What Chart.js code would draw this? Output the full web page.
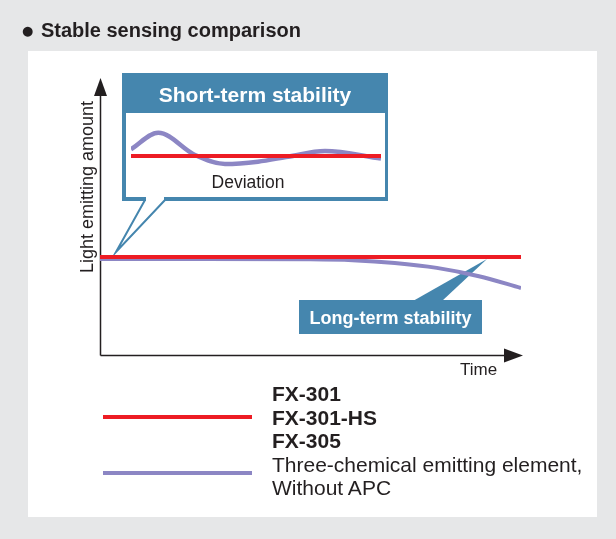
<!DOCTYPE html>
<html>
<head>
<meta charset="utf-8">
<script src="https://cdn.jsdelivr.net/npm/chart.js@4.4.0/dist/chart.umd.min.js"></script>
<style>
  html, body { margin: 0; padding: 0; }
  body { width: 616px; height: 539px; background: #e6e7e8; position: relative; overflow: hidden;
         font-family: "Liberation Sans", Arial, sans-serif; color: #231f20; }
  .abs { position: absolute; white-space: nowrap; }
  #panel { left: 28px; top: 51px; width: 569px; height: 466px; background: #fff; }
  #main-chart { position: absolute; left: 0; top: 0; }
  #inset-chart { position: absolute; left: 126px; top: 113px; }
  #title { left: 22px; top: 20px; font-size: 20px; line-height: 20px; font-weight: bold; }
  #title .dot { font-family: "DejaVu Sans", sans-serif; font-size: 13px; vertical-align: 2px; margin-right: 2px; }
  #short-title { left: 122px; top: 84px; width: 266px; text-align: center; color: #fff;
                 font-size: 21px; line-height: 21px; font-weight: bold; }
  #deviation { left: 148px; top: 174px; width: 200px; text-align: center; font-size: 17.5px; line-height: 17.5px; }
  #long-title { left: 299px; top: 309px; width: 183px; text-align: center; color: #fff;
                font-size: 18px; line-height: 18px; font-weight: bold; }
  #time-label { left: 460px; top: 361px; font-size: 17px; line-height: 17px; }
  #y-label { left: -13px; top: 178px; width: 200px; text-align: center; font-size: 18px; line-height: 18px;
             transform: rotate(-90deg); }
  #legend { left: 272px; top: 382px; font-size: 21px; line-height: 23.6px; }
  #legend b { font-weight: bold; }
  .swatch { position: absolute; left: 103px; width: 149px; height: 4px; }
</style>
</head>
<body>
<div id="panel" class="abs"></div>
<canvas id="main-chart" width="616" height="539"></canvas>
<canvas id="inset-chart" width="260" height="84"></canvas>

<div id="title" class="abs"><span class="dot">●</span> Stable sensing comparison</div>
<div id="short-title" class="abs">Short-term stability</div>
<div id="deviation" class="abs">Deviation</div>
<div id="long-title" class="abs">Long-term stability</div>
<div id="time-label" class="abs">Time</div>
<div id="y-label" class="abs">Light emitting amount</div>
<div id="fx-swatch" class="swatch"></div>
<div id="tc-swatch" class="swatch"></div>
<div id="legend" class="abs"></div>

<script>
// Series names (legend)
const fxNames = ["FX-301", "FX-301-HS", "FX-305"];
const threeChemNames = ["Three-chemical emitting element,", "Without APC"];

// Long-term: time (0-100) vs light emitting amount
const fxTime = [0, 100];
const fxLevel = [100, 100];
const threeChemTime = [0, 25, 50, 60, 70, 80, 90, 100];
const threeChemLevel = [98, 98, 97.7, 96.8, 94, 89, 80.5, 68.5];

// Short-term: deviation around the set level
const fxShortTime = [0, 100];
const fxShortDev = [0, 0];
const threeChemShortTime = [0, 10.9, 25.6, 37.6, 50.8, 62.8, 77.6, 100];
const threeChemShortDev = [6.7, 23.3, 1, -8, -5.7, -0.7, 5, -2.5];

const RED = "#ed1c24";
const PURPLE = "#8c86c4";
const BLUE = "#4586ae";
const INK = "#231f20";

function toPoints(xs, ys) {
    return xs.map((x, i) => ({ x: x, y: ys[i] }));
}

// legend text + swatches
document.getElementById("legend").innerHTML =
    fxNames.map(n => "<b>" + n + "</b>").join("<br>") + "<br>" + threeChemNames.join("<br>");
const fxSw = document.getElementById("fx-swatch");
fxSw.style.top = "415px"; fxSw.style.background = RED;
const tcSw = document.getElementById("tc-swatch");
tcSw.style.top = "471px"; tcSw.style.background = PURPLE;

// axes with arrows + callout shapes, drawn under the lines
const decorPlugin = {
    id: "decor",
    beforeDatasetsDraw(chart) {
        const ctx = chart.ctx;
        const a = chart.chartArea;
        ctx.save();

        // short-term callout box
        ctx.fillStyle = BLUE;
        ctx.fillRect(122, 73, 266, 128);
        ctx.fillStyle = "#fff";
        ctx.fillRect(126, 113, 259, 84);
        ctx.fillRect(146, 196, 18, 6);
        ctx.strokeStyle = BLUE;
        ctx.lineWidth = 2;
        ctx.beginPath();
        ctx.moveTo(145, 200);
        ctx.lineTo(116, 252);
        ctx.lineTo(165, 200);
        ctx.stroke();

        // long-term label box
        ctx.fillStyle = BLUE;
        ctx.fillRect(299, 300, 183, 34);
        ctx.beginPath();
        ctx.moveTo(413, 301);
        ctx.lineTo(487, 259);
        ctx.lineTo(442, 301);
        ctx.closePath();
        ctx.fill();

        // axes
        const x0 = Math.round(a.left) + 0.5;
        const y0 = Math.round(a.bottom) + 0.5;
        ctx.strokeStyle = INK;
        ctx.fillStyle = INK;
        ctx.lineWidth = 1.5;
        ctx.beginPath();
        ctx.moveTo(x0, y0);
        ctx.lineTo(x0, a.top + 14);
        ctx.moveTo(x0, y0);
        ctx.lineTo(a.right - 14, y0);
        ctx.stroke();
        ctx.beginPath();
        ctx.moveTo(x0, a.top);
        ctx.lineTo(x0 - 6.5, a.top + 18);
        ctx.lineTo(x0 + 6.5, a.top + 18);
        ctx.closePath();
        ctx.fill();
        ctx.beginPath();
        ctx.moveTo(a.right + 2, y0);
        ctx.lineTo(a.right - 17, y0 - 7);
        ctx.lineTo(a.right - 17, y0 + 7);
        ctx.closePath();
        ctx.fill();

        ctx.restore();
    }
};

const lineDefaults = {
    pointRadius: 0,
    fill: false,
    cubicInterpolationMode: "monotone"
};

new Chart(document.getElementById("main-chart"), {
    type: "line",
    data: {
        datasets: [
            Object.assign({ label: fxNames.join(" / "), data: toPoints(fxTime, fxLevel),
                borderColor: RED, borderWidth: 4, borderCapStyle: "butt" }, lineDefaults),
            Object.assign({ label: threeChemNames.join(" "), data: toPoints(threeChemTime, threeChemLevel),
                borderColor: PURPLE, borderWidth: 4, borderCapStyle: "butt" }, lineDefaults)
        ]
    },
    options: {
        responsive: false,
        animation: false,
        devicePixelRatio: 1,
        layout: { padding: { left: 100, right: 95, top: 78, bottom: 184 } },
        plugins: { legend: { display: false }, tooltip: { enabled: false } },
        scales: {
            x: { type: "linear", min: 0, max: 100, display: false },
            y: { type: "linear", min: 0, max: 283, display: false }
        }
    },
    plugins: [decorPlugin]
});

new Chart(document.getElementById("inset-chart"), {
    type: "line",
    data: {
        datasets: [
            Object.assign({ label: "FX", data: toPoints(fxShortTime, fxShortDev),
                borderColor: RED, borderWidth: 4, borderCapStyle: "butt" }, lineDefaults),
            Object.assign({ label: "Three-chemical", data: toPoints(threeChemShortTime, threeChemShortDev),
                borderColor: PURPLE, borderWidth: 4.5, borderCapStyle: "butt" }, lineDefaults)
        ]
    },
    options: {
        responsive: false,
        animation: false,
        devicePixelRatio: 1,
        layout: { padding: { left: 5, right: 5, top: 0, bottom: 0 } },
        plugins: { legend: { display: false }, tooltip: { enabled: false } },
        scales: {
            x: { type: "linear", min: 0, max: 100, display: false },
            y: { type: "linear", min: -41, max: 43, display: false }
        }
    }
});
</script>
</body>
</html>
